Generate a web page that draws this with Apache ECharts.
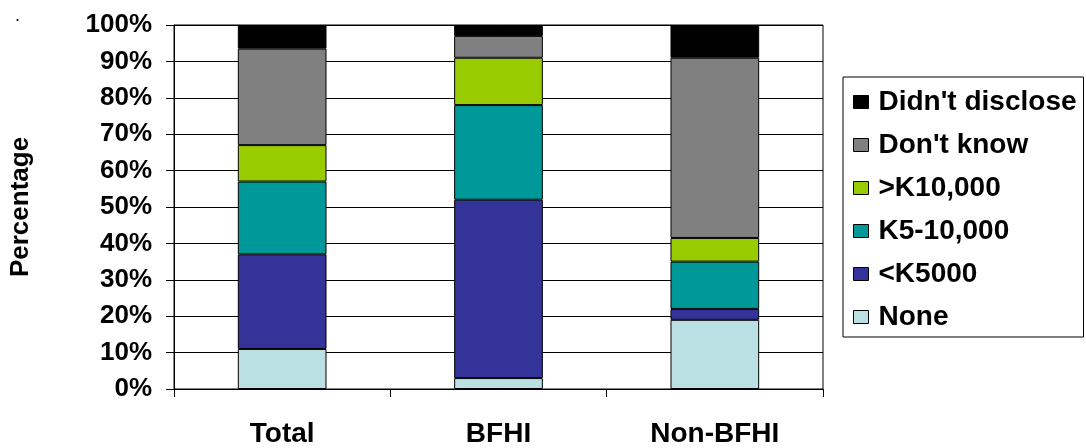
<!DOCTYPE html>
<html>
<head>
<meta charset="utf-8">
<script src="https://cdn.jsdelivr.net/npm/echarts@6/dist/echarts.min.js"></script>
<style>
html,body{margin:0;padding:0;background:#fff;}
#chart{width:1086px;height:448px;}
</style>
</head>
<body>
<div id="chart"></div>
<script>
const categories = ['Total', 'BFHI', 'Non-BFHI'];
const yTicks = [0, 10, 20, 30, 40, 50, 60, 70, 80, 90, 100];
const noneVals = [11, 3, 19];
const lt5000Vals = [26, 49, 3];
const k5to10Vals = [20, 26, 13];
const gt10000Vals = [10, 13, 6.5];
const dontKnowVals = [26.5, 6, 49.5];
const didntDiscloseVals = [6.5, 3, 9];
const seriesNames = ['None', '<K5000', 'K5-10,000', '>K10,000', "Don't know", "Didn't disclose"];
const seriesColors = ['#BBE0E3', '#333399', '#009999', '#99CC00', '#808080', '#000000'];
const seriesValues = [noneVals, lt5000Vals, k5to10Vals, gt10000Vals, dontKnowVals, didntDiscloseVals];

const FONT = 'Liberation Sans, Arial, sans-serif';
const chart = echarts.init(document.getElementById('chart'), null, {renderer: 'canvas'});

const series = seriesNames.map((name, i) => ({
  name: name,
  type: 'bar',
  stack: 'total',
  barWidth: '41%',
  data: seriesValues[i],
  itemStyle: {color: seriesColors[i], borderColor: '#000', borderWidth: 1},
  emphasis: {disabled: true}
}));

chart.setOption({
  animation: false,
  backgroundColor: '#fff',
  title: {
    text: '.', left: 10, top: 2,
    textStyle: {fontFamily: FONT, fontSize: 18, color: '#000', fontWeight: 'normal'}
  },
  grid: {
    left: 174, top: 25, width: 649, height: 364,
    containLabel: false,
    outerBoundsMode: 'none',
    show: true, borderColor: '#000', borderWidth: 1
  },
  legend: {
    orient: 'vertical',
    left: 843, top: 77,
    padding: [11, 7, 6, 10],
    itemGap: 15,
    itemWidth: 15, itemHeight: 13,
    icon: 'rect',
    borderColor: '#000', borderWidth: 1,
    data: seriesNames.slice().reverse().map(n => ({name: n, icon: 'rect', itemStyle: {borderColor: '#000', borderWidth: 1}})),
    textStyle: {fontFamily: FONT, fontSize: 28, fontWeight: 'bold', color: '#000', padding: [0, 0, 0, 5]},
    selectedMode: false
  },
  xAxis: {
    type: 'category',
    data: categories,
    axisLine: {lineStyle: {color: '#000', width: 1}},
    axisTick: {show: true, length: 8, lineStyle: {color: '#000'}},
    axisLabel: {fontFamily: FONT, fontSize: 28, fontWeight: 'bold', color: '#000', margin: 31}
  },
  yAxis: {
    type: 'value',
    min: 0, max: 100, interval: 10,
    name: 'Percentage',
    nameLocation: 'middle',
    nameGap: 140,
    nameRotate: 90,
    nameTextStyle: {fontFamily: FONT, fontSize: 26, fontWeight: 'bold', color: '#000'},
    axisLine: {show: true, lineStyle: {color: '#000', width: 1}},
    axisTick: {show: true, length: 8, lineStyle: {color: '#000'}},
    axisLabel: {fontFamily: FONT, fontSize: 26, fontWeight: 'bold', color: '#000', margin: 22,
      formatter: v => yTicks.indexOf(v) >= 0 ? v + '%' : ''},
    splitLine: {show: true, lineStyle: {color: '#000', width: 1}}
  },
  series: series
});
</script>
</body>
</html>
